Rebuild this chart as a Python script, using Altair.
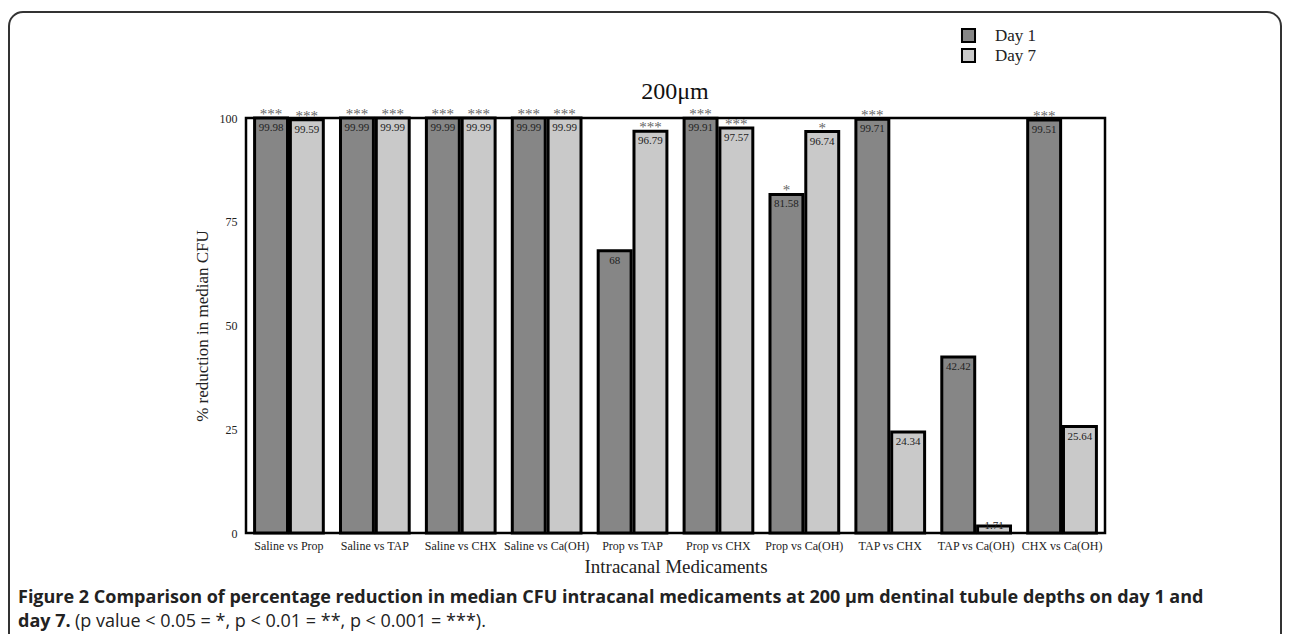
import altair as alt
import pandas as pd

comparisons = ["Saline vs Prop", "Saline vs TAP", "Saline vs CHX", "Saline vs Ca(OH)",
               "Prop vs TAP", "Prop vs CHX", "Prop vs Ca(OH)", "TAP vs CHX",
               "TAP vs Ca(OH)", "CHX vs Ca(OH)"]
days = ["Day 1", "Day 7"]
day1_values = [99.98, 99.99, 99.99, 99.99, 68, 99.91, 81.58, 99.71, 42.42, 99.51]
day7_values = [99.59, 99.99, 99.99, 99.99, 96.79, 97.57, 96.74, 24.34, 1.71, 25.64]
day1_sig = ["***", "***", "***", "***", "", "***", "*", "***", "", "***"]
day7_sig = ["***", "***", "***", "***", "***", "***", "*", "", "", ""]
y_ticks = [0, 25, 50, 75, 100]

rows = []
for c, v1, v7, s1, s7 in zip(comparisons, day1_values, day7_values, day1_sig, day7_sig):
    rows.append({"comparison": c, "day": "Day 1", "value": v1, "label": f"{v1:g}", "sig": s1})
    rows.append({"comparison": c, "day": "Day 7", "value": v7, "label": f"{v7:g}", "sig": s7})
df = pd.DataFrame(rows)

SERIF = "Liberation Serif"
DARK = "#868686"
LIGHT = "#c9c9c9"

base = alt.Chart(df).encode(
    x=alt.X("comparison:N", sort=comparisons,
            scale=alt.Scale(paddingInner=0.2, paddingOuter=0.1),
            axis=alt.Axis(title="Intracanal Medicaments", labelAngle=0, labelFont=SERIF,
                          labelFontSize=12, labelColor="#222", ticks=False, domain=False,
                          labelPadding=7, titleFont=SERIF, titleFontSize=19,
                          titleFontWeight="normal", titleColor="#222", titlePadding=6)),
    xOffset=alt.XOffset("day:N", sort=days, scale=alt.Scale(paddingInner=0.08)),
)

bars = base.mark_bar(stroke="black", strokeWidth=3).encode(
    y=alt.Y("value:Q", scale=alt.Scale(domain=[0, 100], nice=False),
            axis=alt.Axis(title="% reduction in median CFU", values=y_ticks, ticks=False,
                          domain=False, grid=False, labelFont=SERIF, labelFontSize=12,
                          labelColor="#222", labelPadding=9, titleFont=SERIF,
                          titleFontSize=17, titleFontWeight="normal", titleColor="#222",
                          titlePadding=8)),
    fill=alt.Fill("day:N", sort=days, scale=alt.Scale(domain=days, range=[DARK, LIGHT]),
                  legend=alt.Legend(title=None, orient="none", legendX=714, legendY=-91,
                                    symbolType="square", symbolSize=170,
                                    symbolStrokeColor="black", symbolStrokeWidth=2,
                                    labelFont=SERIF, labelFontSize=17, labelColor="#222",
                                    labelOffset=18, rowPadding=-15, symbolOffset=0)),
)

labels = base.transform_calculate(pos="max(datum.value, 4)").mark_text(
    baseline="top", dy=4, font=SERIF, fontSize=11, color="#222"
).encode(y="pos:Q", text="label:N")

stars = base.mark_text(baseline="alphabetic", dy=1, font=SERIF, fontSize=15, color="#666").encode(
    y="value:Q", text="sig:N")

one = pd.DataFrame({"k": [0]})

border = alt.Chart(one).mark_rect(fillOpacity=0, stroke="#333", strokeWidth=2, cornerRadius=14).encode(
    x=alt.value(-237), x2=alt.value(1035), y=alt.value(-106), y2=alt.value(720))

title = alt.Chart(one).mark_text(font=SERIF, fontSize=24, baseline="alphabetic", color="#111").encode(
    x=alt.value(429), y=alt.value(-19), text=alt.value("200μm"))

CAP = "Open Sans, sans-serif"
CAPSIZE = 18
cap1 = alt.Chart(one).mark_text(font=CAP, fontSize=CAPSIZE, fontWeight="bold", align="left",
                                baseline="alphabetic", color="#222").encode(
    x=alt.value(-228), y=alt.value(485),
    text=alt.value("Figure 2 Comparison of percentage reduction in median CFU intracanal medicaments at 200 µm dentinal tubule depths on day 1 and"))
cap2 = alt.Chart(one).mark_text(font=CAP, fontSize=CAPSIZE, fontWeight="bold", align="left",
                                baseline="alphabetic", color="#222").encode(
    x=alt.value(-228), y=alt.value(509), text=alt.value("day 7."))
cap3 = alt.Chart(one).mark_text(font=CAP, fontSize=CAPSIZE, align="left",
                                baseline="alphabetic", color="#222").encode(
    x=alt.value(-171), y=alt.value(509),
    text=alt.value("(p value < 0.05 = *, p < 0.01 = **, p < 0.001 = ***)."))

chart = alt.layer(bars, labels, stars, border, title, cap1, cap2, cap3).properties(
    width=859, height=415,
    autosize=alt.AutoSizeParams(type="none"),
    padding={"left": 238, "top": 110, "right": 179, "bottom": 101},
).configure_view(stroke="black", strokeWidth=2.5)

chart.save("out.html", embed_options={"renderer": "svg", "actions": False})
